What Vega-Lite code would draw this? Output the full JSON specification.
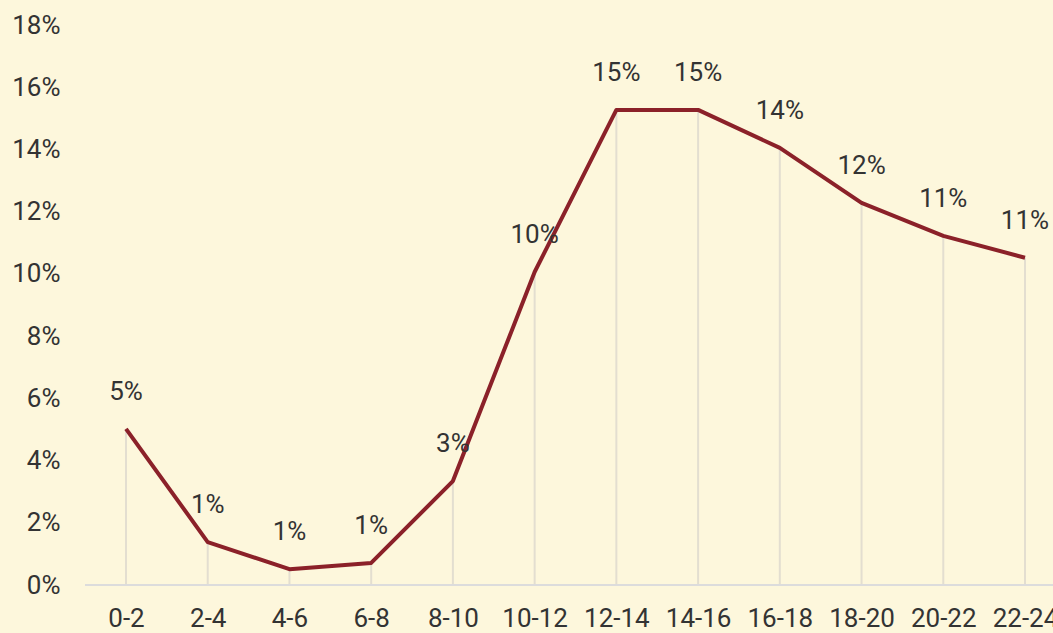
{
  "$schema": "https://vega.github.io/schema/vega-lite/v6.json",
  "width": 968,
  "height": 560,
  "autosize": {"type": "none"},
  "padding": {"left": 85, "top": 25, "right": 0, "bottom": 48},
  "background": "#FDF7DC",
  "config": {
    "view": {"stroke": null},
    "font": "Roboto",
    "axis": {"labelFont": "Roboto", "labelFontSize": 26, "labelFontWeight": 400, "labelColor": "#333333", "grid": false, "ticks": false, "domain": false, "title": null}
  },
  "data": {
    "values": [
      {"hour": "0-2", "share": 0.0502},
      {"hour": "2-4", "share": 0.0138},
      {"hour": "4-6", "share": 0.0051},
      {"hour": "6-8", "share": 0.0071},
      {"hour": "8-10", "share": 0.0334},
      {"hour": "10-12", "share": 0.1006},
      {"hour": "12-14", "share": 0.1527},
      {"hour": "14-16", "share": 0.1527},
      {"hour": "16-18", "share": 0.1405},
      {"hour": "18-20", "share": 0.1228},
      {"hour": "20-22", "share": 0.1122},
      {"hour": "22-24", "share": 0.1052}
    ]
  },
  "encoding": {
    "x": {
      "field": "hour", "type": "ordinal", "sort": null,
      "scale": {"type": "point", "range": [41, 940], "padding": 0},
      "axis": {"labelAngle": 0, "labelPadding": 20}
    },
    "y": {
      "field": "share", "type": "quantitative",
      "scale": {"domain": [0, 0.18], "nice": false},
      "axis": {"format": ".0%", "values": [0, 0.02, 0.04, 0.06, 0.08, 0.1, 0.12, 0.14, 0.16, 0.18], "labelPadding": 25}
    }
  },
  "layer": [
    {
      "mark": {"type": "rule", "color": "#E3DED0", "strokeWidth": 2},
      "encoding": {"y2": {"datum": 0}}
    },
    {
      "mark": {"type": "rule", "color": "#DCDCDC", "strokeWidth": 2},
      "encoding": {"x": {"value": 0}, "x2": {"value": 968}, "y": {"datum": 0}}
    },
    {
      "mark": {"type": "line", "color": "#8B2129", "strokeWidth": 4, "strokeJoin": "round"}
    },
    {
      "mark": {"type": "text", "fontSize": 26, "fontWeight": 400, "color": "#333333", "baseline": "bottom", "dy": -24},
      "encoding": {"text": {"field": "share", "type": "quantitative", "format": ".0%"}}
    }
  ]
}
